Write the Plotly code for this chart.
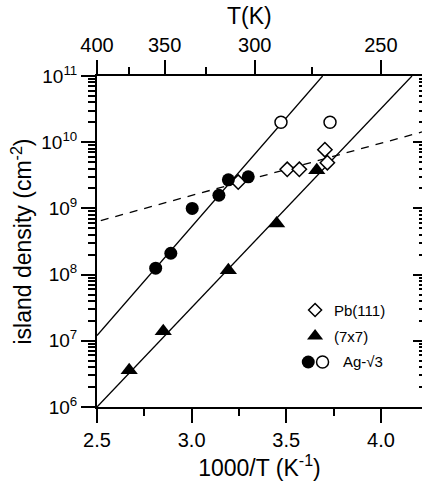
import plotly.graph_objects as go

# ---------------- data ----------------
ag_filled_x = [2.81, 2.89, 3.003, 3.144, 3.194, 3.299]
ag_filled_y = [1.25e8, 2.1e8, 1.0e9, 1.58e9, 2.7e9, 3.0e9]
ag_open_x = [3.472, 3.731]
ag_open_y = [2.0e10, 2.0e10]
pb_x = [3.246, 3.505, 3.569, 3.704, 3.717]
pb_y = [2.5e9, 3.9e9, 3.9e9, 7.7e9, 4.9e9]
tri_x = [2.67, 2.85, 3.194, 3.449, 3.661]
tri_y = [3.6e6, 1.4e7, 1.16e8, 5.9e8, 3.76e9]

fit_ag_x = [2.5, 3.692]
fit_ag_y = [1.2e7, 1.0e11]
fit_7x7_x = [2.5, 4.164]
fit_7x7_y = [1.0e6, 1.0e11]
fit_pb_x = [2.52, 4.217]
fit_pb_y = [6.55e8, 1.43e10]

x_ticks = [2.5, 3.0, 3.5, 4.0]
x_ticktext = ["2.5", "3.0", "3.5", "4.0"]
x_minor = [2.75, 3.25, 3.75]
T_major = [400, 350, 300, 250]
T_minor = [375, 325, 275]
y_exps = [6, 7, 8, 9, 10, 11]

legend_labels = ["Pb(111)", "(7x7)", "Ag-\u221a3"]

# ---------------- figure ----------------
FONT = "Liberation Sans, Arial, sans-serif"
X_RANGE = [2.5, 4.217]
Y_RANGE = [6, 11]

y_tickvals = [10 ** e for e in y_exps]
y_ticktext = ["10<sup>%d</sup>" % e for e in y_exps]
y_minor = [m * 10 ** e for e in y_exps[:-1] for m in range(2, 10)]

fig = go.Figure()

line_style = dict(color="black", width=1.3)
fig.add_trace(go.Scatter(x=fit_pb_x, y=fit_pb_y, mode="lines",
                         line=dict(color="black", width=1.3, dash="8px,7px")))
fig.add_trace(go.Scatter(x=fit_ag_x, y=fit_ag_y, mode="lines", line=line_style))
fig.add_trace(go.Scatter(x=fit_7x7_x, y=fit_7x7_y, mode="lines", line=line_style))

fig.add_trace(go.Scatter(x=pb_x, y=pb_y, mode="markers",
                         marker=dict(symbol="diamond", size=11, color="white",
                                     line=dict(color="black", width=1.5))))
fig.add_trace(go.Scatter(x=tri_x, y=tri_y, mode="markers",
                         marker=dict(symbol="triangle-up", size=15, color="black",
                                     line=dict(width=0))))
fig.add_trace(go.Scatter(x=ag_filled_x, y=ag_filled_y, mode="markers",
                         marker=dict(symbol="circle", size=13, color="black",
                                     line=dict(width=0))))
fig.add_trace(go.Scatter(x=ag_open_x, y=ag_open_y, mode="markers",
                         marker=dict(symbol="circle", size=12, color="white",
                                     line=dict(color="black", width=1.5))))

# invisible traces to activate the mirror axes
fig.add_trace(go.Scatter(x=X_RANGE, y=[1e6, 1e6], xaxis="x2", yaxis="y",
                         mode="markers", marker=dict(opacity=0), hoverinfo="skip"))
fig.add_trace(go.Scatter(x=X_RANGE, y=[1e6, 1e6], xaxis="x", yaxis="y3",
                         mode="markers", marker=dict(opacity=0), hoverinfo="skip"))

# manual legend on an overlay axis in [0,1] fraction units
leg_y = [0.293, 0.2145, 0.136]
fig.add_trace(go.Scatter(x=[0.671], y=[leg_y[0]], xaxis="x3", yaxis="y4", mode="markers",
                         marker=dict(symbol="diamond", size=10, color="white",
                                     line=dict(color="black", width=1.5))))
fig.add_trace(go.Scatter(x=[0.671], y=[leg_y[1]], xaxis="x3", yaxis="y4", mode="markers",
                         marker=dict(symbol="triangle-up", size=14, color="black",
                                     line=dict(width=0))))
fig.add_trace(go.Scatter(x=[0.650], y=[leg_y[2]], xaxis="x3", yaxis="y4", mode="markers",
                         marker=dict(symbol="circle", size=13, color="black",
                                     line=dict(width=0))))
fig.add_trace(go.Scatter(x=[0.694], y=[leg_y[2]], xaxis="x3", yaxis="y4", mode="markers",
                         marker=dict(symbol="circle", size=12, color="white",
                                     line=dict(color="black", width=1.5))))
leg_text_x = [0.722, 0.722, 0.752]
for lx, ly, lab in zip(leg_text_x, leg_y, legend_labels):
    fig.add_annotation(x=lx, y=ly, xref="x3", yref="y4", text=lab, showarrow=False,
                       xanchor="left", yanchor="middle",
                       font=dict(family=FONT, size=15, color="black"))

# top axis title
fig.add_annotation(x=0.469, y=1, xref="paper", yref="paper", text="T(K)",
                   showarrow=False, xanchor="center", yanchor="middle", yshift=60,
                   font=dict(family=FONT, size=23, color="black"))

axis_common = dict(showgrid=False, zeroline=False, linecolor="black", linewidth=2,
                   tickcolor="black", tickwidth=2, ticklen=14)

fig.update_layout(
    width=422, height=484,
    margin=dict(l=97, r=0, t=76, b=77),
    paper_bgcolor="white", plot_bgcolor="white",
    showlegend=False,
    font=dict(family=FONT, color="black"),
    xaxis=dict(range=X_RANGE, tickvals=x_ticks, ticktext=x_ticktext,
               ticks="outside", showline=True,
               minor=dict(tickvals=x_minor, ticks="outside", ticklen=7,
                          tickwidth=2, tickcolor="black"),
               tickfont=dict(size=20),
               title=dict(text="1000/T (K<sup>-1</sup>)", font=dict(size=23), standoff=8),
               **axis_common),
    xaxis2=dict(range=X_RANGE, overlaying="x", side="top", anchor="y",
                tickvals=[1000.0 / t for t in T_major], ticktext=[str(t) for t in T_major],
                ticks="outside", showline=True,
                minor=dict(tickvals=[1000.0 / t for t in T_minor], ticks="outside",
                           ticklen=7, tickwidth=2, tickcolor="black"),
                tickfont=dict(size=20),
                **axis_common),
    yaxis=dict(type="log", range=Y_RANGE, tickvals=y_tickvals, ticktext=y_ticktext,
               ticks="outside", showline=True,
               minor=dict(tickvals=y_minor, ticks="outside", ticklen=7,
                          tickwidth=2, tickcolor="black"),
               tickfont=dict(size=19),
               title=dict(text="island density (cm<sup>-2</sup>)", font=dict(size=23),
                          standoff=3),
               **axis_common),
    yaxis3=dict(type="log", range=Y_RANGE, overlaying="y", side="right", anchor="x",
                tickvals=y_tickvals, showticklabels=False, ticks="inside",
                showline=False, showgrid=False, zeroline=False,
                tickcolor="black", tickwidth=2, ticklen=9,
                minor=dict(tickvals=y_minor, ticks="inside", ticklen=3,
                           tickwidth=2, tickcolor="black")),
    xaxis3=dict(domain=[0, 1], range=[0, 1], overlaying="x", anchor="y4",
                visible=False, fixedrange=True),
    yaxis4=dict(domain=[0, 1], range=[0, 1], overlaying="y", anchor="x3",
                visible=False, fixedrange=True),
)

fig.write_html("out.html",
               config={"displayModeBar": False},
               post_script="document.body.style.margin='0';"
                           "document.body.style.overflow='hidden';")
